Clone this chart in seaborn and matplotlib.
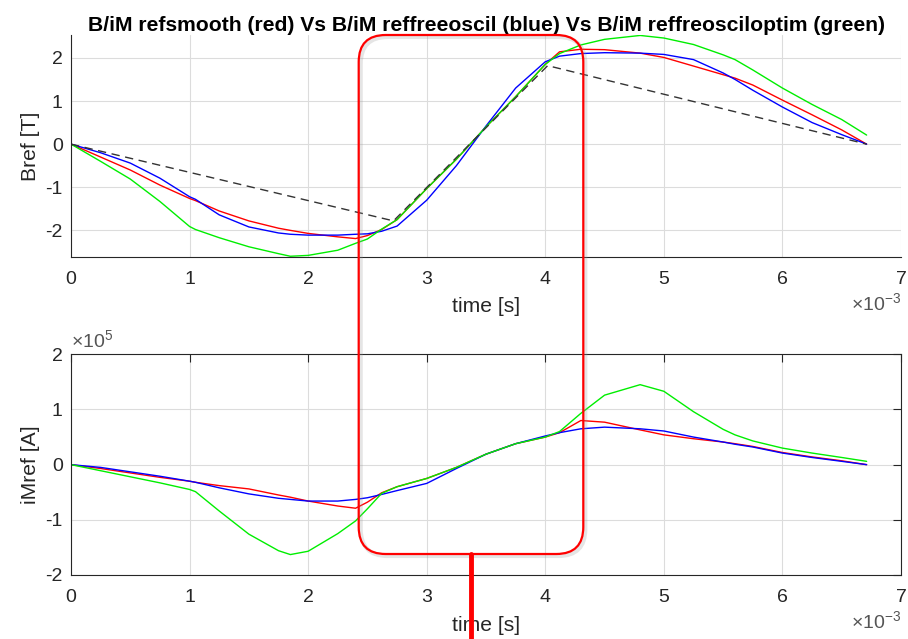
import numpy as np
import matplotlib
matplotlib.use("Agg")
import matplotlib.pyplot as plt
import seaborn as sns
from matplotlib.patches import FancyBboxPatch
from matplotlib.lines import Line2D
from matplotlib.ticker import FuncFormatter

# --- datos (tiempo en ms) ---
t_ms = [0, 0.25, 0.5, 0.75, 1.0, 1.05, 1.25, 1.5, 1.75, 1.85, 2.0, 2.25, 2.4, 2.5, 2.62,
        2.75, 3.0, 3.25, 3.5, 3.75, 4.0, 4.12, 4.3, 4.5, 4.8, 5.0, 5.25, 5.5, 5.6, 5.75,
        6.0, 6.25, 6.5, 6.71]

# Bref [T]
B_red = [0, -0.3, -0.6, -0.95, -1.26, -1.31, -1.55, -1.78, -1.95, -2.0, -2.07, -2.15, -2.19,
         -2.12, -1.98, -1.75, -1.03, -0.35, 0.4, 1.1, 1.85, 2.14, 2.2, 2.19, 2.11, 2.01, 1.81,
         1.61, 1.53, 1.37, 1.02, 0.68, 0.33, 0]
B_blue = [0, -0.2, -0.44, -0.79, -1.22, -1.28, -1.64, -1.92, -2.06, -2.09, -2.11, -2.11, -2.09,
          -2.08, -2.02, -1.9, -1.3, -0.5, 0.42, 1.3, 1.91, 2.04, 2.1, 2.12, 2.11, 2.08, 1.96,
          1.65, 1.5, 1.25, 0.86, 0.5, 0.22, 0]
B_green = [0, -0.4, -0.81, -1.33, -1.91, -1.98, -2.17, -2.38, -2.54, -2.6, -2.58, -2.46, -2.3,
           -2.2, -1.97, -1.75, -1.03, -0.35, 0.4, 1.1, 1.85, 2.1, 2.3, 2.43, 2.52, 2.46, 2.31,
           2.07, 1.96, 1.72, 1.3, 0.92, 0.57, 0.21]

# linea discontinua (pendientes)
dash_t_ms = [0, 2.72, 4.02, 6.71]
dash_B = [0, -1.78, 1.82, 0]

# iMref [A] en unidades de 1e5
I_red = [0, -0.07, -0.15, -0.23, -0.30, -0.32, -0.38, -0.44, -0.55, -0.59, -0.66, -0.75, -0.79,
         -0.68, -0.51, -0.4, -0.25, -0.05, 0.19, 0.38, 0.5, 0.58, 0.8, 0.77, 0.63, 0.54, 0.47,
         0.41, 0.38, 0.33, 0.22, 0.14, 0.07, 0]
I_blue = [0, -0.05, -0.13, -0.21, -0.30, -0.32, -0.42, -0.53, -0.61, -0.63, -0.66, -0.66, -0.63,
          -0.6, -0.54, -0.47, -0.34, -0.07, 0.19, 0.38, 0.52, 0.58, 0.65, 0.68, 0.65, 0.61, 0.5,
          0.41, 0.37, 0.32, 0.21, 0.13, 0.06, 0]
I_green = [0, -0.11, -0.22, -0.33, -0.45, -0.49, -0.84, -1.26, -1.56, -1.63, -1.57, -1.25, -1.02,
           -0.8, -0.52, -0.4, -0.25, -0.05, 0.19, 0.38, 0.5, 0.6, 0.93, 1.26, 1.45, 1.33, 0.96,
           0.64, 0.54, 0.43, 0.30, 0.21, 0.13, 0.06]

t = np.array(t_ms) * 1e-3
t_dash = np.array(dash_t_ms) * 1e-3

sns.set_style("white")
plt.rcParams['font.family'] = ['Liberation Sans', 'DejaVu Sans']
plt.rcParams['mathtext.fontset'] = 'custom'
plt.rcParams['mathtext.rm'] = 'Liberation Sans'
plt.rcParams['axes.unicode_minus'] = False

TXT = '#262626'
TICK_FS = 14
LAB_FS = 15.2
fig = plt.figure(figsize=(9.08, 6.39), dpi=100)
ax1 = fig.add_axes([0.0782, 0.5983, 0.9141, 0.3469])
ax2 = fig.add_axes([0.0782, 0.1002, 0.9141, 0.3453])

# --- GRAFICO 1: Bref ---
sns.lineplot(x=t, y=B_red, color='red', linewidth=1.0, ax=ax1)
sns.lineplot(x=t, y=B_blue, color='blue', linewidth=1.0, ax=ax1)
sns.lineplot(x=t, y=B_green, color='#00ee00', linewidth=1.0, ax=ax1)
sns.lineplot(x=t_dash, y=dash_B, color='#333333', linewidth=1.0, ax=ax1)
ax1.lines[-1].set_dashes([6, 4])
ax1.set_ylim(-2.61, 2.53)
ax1.set_yticks([-2, -1, 0, 1, 2])
ax1.set_title('B/iM refsmooth (red) Vs B/iM reffreeoscil (blue) Vs B/iM reffreosciloptim (green)',
              fontsize=LAB_FS, fontweight='bold', color='black', pad=3)
ax1.set_ylabel('Bref [T]', fontsize=LAB_FS, color=TXT, labelpad=4)
for s in ['top', 'right']:
    ax1.spines[s].set_visible(False)

# --- GRAFICO 2: iMref ---
sns.lineplot(x=t, y=np.array(I_red) * 1e5, color='red', linewidth=1.0, ax=ax2)
sns.lineplot(x=t, y=np.array(I_blue) * 1e5, color='blue', linewidth=1.0, ax=ax2)
sns.lineplot(x=t, y=np.array(I_green) * 1e5, color='#00ee00', linewidth=1.0, ax=ax2)
ax2.set_ylim(-2e5, 2e5)
ax2.set_yticks([-2e5, -1e5, 0, 1e5, 2e5])
ax2.yaxis.set_major_formatter(FuncFormatter(lambda v, _: f'{v / 1e5:g}'))
ax2.text(0.0, 1.012, r'$\times10^{5}$', transform=ax2.transAxes, ha='left', va='bottom',
         fontsize=TICK_FS, color='#555555')
ax2.set_ylabel('iMref [A]', fontsize=LAB_FS, color=TXT, labelpad=4)
ax2.tick_params(top=True, right=True)

for ax in (ax1, ax2):
    ax.set_xlim(0, 0.007)
    ax.set_xticks(np.arange(0, 0.00701, 0.001))
    ax.ticklabel_format(axis='x', style='sci', scilimits=(0, 0), useMathText=True)
    ax.set_xlabel('time [s]', fontsize=LAB_FS, color=TXT, labelpad=7)
    ax.grid(True, color='#dcdcdc', linewidth=0.8)
    ax.tick_params(direction='in', length=5.5, width=0.8, color=TXT,
                   labelsize=TICK_FS, labelcolor=TXT)
    ax.tick_params(axis='x', pad=10)
    ax.tick_params(axis='y', pad=6)
    for s in ax.spines.values():
        s.set_color(TXT)
        s.set_linewidth(0.8)
    ax.xaxis.get_offset_text().set_fontsize(TICK_FS)
    ax.xaxis.get_offset_text().set_color('#555555')

# --- anotacion roja (en pulgadas de figura) ---
box_x, box_y, box_w, box_h = 3.587, 0.85, 2.246, 5.19
sombra = FancyBboxPatch((box_x + 0.02, box_y - 0.02), box_w, box_h,
                        boxstyle="round,pad=0,rounding_size=0.27",
                        transform=fig.dpi_scale_trans, fill=False,
                        edgecolor='#999999', linewidth=3, alpha=0.25, zorder=9)
caja = FancyBboxPatch((box_x, box_y), box_w, box_h,
                      boxstyle="round,pad=0,rounding_size=0.27",
                      transform=fig.dpi_scale_trans, fill=False,
                      edgecolor='red', linewidth=1.6, zorder=10)
fig.add_artist(sombra)
fig.add_artist(caja)
fig.add_artist(Line2D([4.71, 4.71], [0, box_y], transform=fig.dpi_scale_trans,
                      color='red', linewidth=3.5, zorder=10))

fig.savefig('out.png', dpi=100)
